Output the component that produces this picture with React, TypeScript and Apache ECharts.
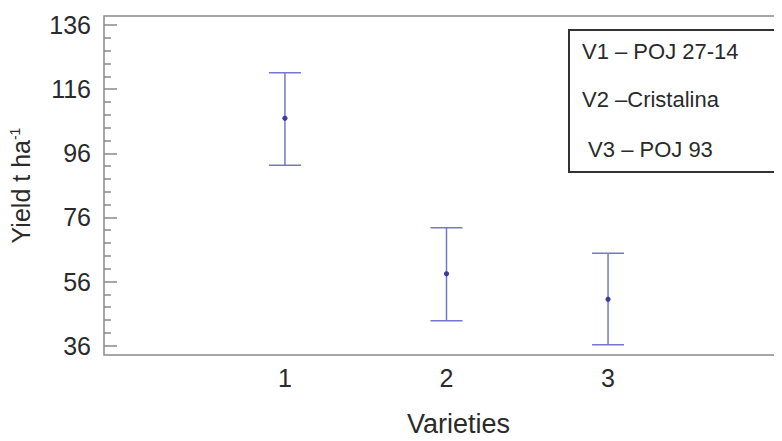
import React, { useEffect, useRef } from "react";
import * as echarts from "echarts";

const varieties = [1, 2, 3];
const xLabels = ["1", "2", "3"];
const means = [106.9, 58.4, 50.5];
const lower = [92.3, 43.8, 36.3];
const upper = [121.1, 72.8, 64.8];
const majorTicks = [36, 56, 76, 96, 116, 136];
const minorTicks = [40, 44, 48, 52, 60, 64, 68, 72, 80, 84, 88, 92, 100, 104, 108, 112, 120, 124, 128, 132];
const legendLines = ["V1 – POJ 27-14", "V2 –Cristalina", " V3 – POJ 93"];

const FONT = "'Liberation Sans', Arial, sans-serif";

export default function App() {
  const ref = useRef<HTMLDivElement>(null);
  useEffect(() => {
    if (!ref.current) return;
    const chart = echarts.init(ref.current, null, { renderer: "svg" });
    const yMin = 33.1;
    const yMax = 138.8;
    const baseY = {
      type: "value",
      min: yMin,
      max: yMax,
      axisLine: { show: false, onZero: false },
      splitLine: { show: false },
    };
    const data = varieties.map((v, i) => [v, means[i], lower[i], upper[i]]);
    chart.setOption({
      animation: false,
      backgroundColor: "#ffffff",
      textStyle: { fontFamily: FONT },
      grid: {
        left: 104,
        top: 16,
        right: -7,
        bottom: 86,
        show: true,
        outerBoundsMode: "none",
        containLabel: false,
        borderColor: "#8a8a8a",
        borderWidth: 1.5,
        backgroundColor: "transparent",
      },
      xAxis: {
        type: "value",
        min: -0.12,
        max: 4.12,
        axisLine: { show: false, onZero: false },
        axisTick: { show: false },
        splitLine: { show: false },
        axisLabel: {
          customValues: varieties,
          formatter: (v: number) => {
            const i = varieties.indexOf(v);
            return i >= 0 ? xLabels[i] : "";
          },
          fontSize: 25,
          color: "#2a2a2a",
          margin: 10,
          fontFamily: FONT,
        },
        name: "Varieties",
        nameLocation: "middle",
        nameGap: 55,
        nameTruncate: { maxWidth: null },
        nameTextStyle: { fontSize: 27, color: "#2a2a2a", fontFamily: FONT, padding: [0, 0, 0, 24] },
      },
      yAxis: [
        {
          ...baseY,
          position: "left",
          axisTick: { show: true, inside: true, length: 13, customValues: majorTicks, lineStyle: { color: "#8a8a8a", width: 1.5 } },
          axisLabel: { customValues: majorTicks, fontSize: 25, color: "#2a2a2a", margin: 13, fontFamily: FONT },
          name: "{a|Yield t ha}{b|-1}",
          nameLocation: "middle",
          nameRotate: 90,
          nameGap: 70,
          nameTextStyle: {
            color: "#2a2a2a",
            fontFamily: FONT,
            rich: {
              a: { fontSize: 25, lineHeight: 26, color: "#2a2a2a", fontFamily: FONT },
              b: { fontSize: 14, lineHeight: 14, verticalAlign: "top", color: "#2a2a2a", fontFamily: FONT },
            },
          },
        },
        {
          ...baseY,
          position: "left",
          axisTick: { show: true, inside: true, length: 7, customValues: minorTicks, lineStyle: { color: "#8a8a8a", width: 1.5 } },
          axisLabel: { show: false },
        },
        {
          ...baseY,
          position: "right",
          axisTick: { show: true, inside: true, length: 13, customValues: majorTicks, lineStyle: { color: "#8a8a8a", width: 1.5 } },
          axisLabel: { show: false },
        },
        {
          ...baseY,
          position: "right",
          axisTick: { show: true, inside: true, length: 7, customValues: minorTicks, lineStyle: { color: "#8a8a8a", width: 1.5 } },
          axisLabel: { show: false },
        },
      ],
      series: [
        {
          type: "custom",
          xAxisIndex: 0,
          yAxisIndex: 0,
          encode: { x: 0, y: [1, 2, 3] },
          data,
          renderItem: (params: any, api: any) => {
            const x = api.value(0);
            const pHi = api.coord([x, api.value(3)]);
            const pLo = api.coord([x, api.value(2)]);
            const pM = api.coord([x, api.value(1)]);
            const hw = 16;
            const stroke = "#7676cc";
            return {
              type: "group",
              children: [
                { type: "line", shape: { x1: pHi[0], y1: pHi[1], x2: pLo[0], y2: pLo[1] }, style: { stroke, lineWidth: 1.5 } },
                { type: "line", shape: { x1: pHi[0] - hw, y1: pHi[1], x2: pHi[0] + hw, y2: pHi[1] }, style: { stroke, lineWidth: 1.5 } },
                { type: "line", shape: { x1: pLo[0] - hw, y1: pLo[1], x2: pLo[0] + hw, y2: pLo[1] }, style: { stroke, lineWidth: 1.5 } },
                { type: "circle", shape: { cx: pM[0], cy: pM[1], r: 2.6 }, style: { fill: "#3d3d99" } },
              ],
            };
          },
        },
      ],
      graphic: [
        {
          type: "rect",
          left: 568,
          top: 29,
          shape: { width: 211, height: 142 },
          style: { fill: "#ffffff", stroke: "#333333", lineWidth: 2 },
          z: 10,
        },
        ...legendLines.map((t, i) => ({
          type: "text",
          left: 582,
          top: [40, 88, 138][i],
          z: 11,
          style: { text: t, fontSize: 22, fill: "#2a2a2a", fontFamily: FONT },
        })),
      ],
    });
    return () => chart.dispose();
  }, []);
  return <div ref={ref} style={{ width: 782, height: 441, margin: -8 }} />;
}
